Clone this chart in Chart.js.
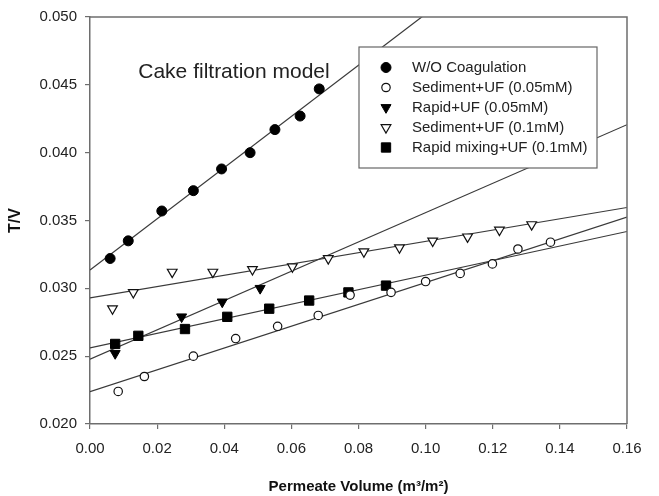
<!DOCTYPE html>
<html><head><meta charset="utf-8">
<script src="https://cdn.jsdelivr.net/npm/chart.js@4.4.1/dist/chart.umd.min.js"></script>
<style>html,body{margin:0;padding:0;background:#fff}#wrap{width:659px;height:496px}</style>
</head><body><div id="wrap"><canvas id="c" width="659" height="496"></canvas></div>
<script>
// ---- data ----
const seriesNames = ['W/O Coagulation', 'Sediment+UF (0.05mM)', 'Rapid+UF (0.05mM)', 'Sediment+UF (0.1mM)', 'Rapid mixing+UF (0.1mM)'];

const woX = [0.0060, 0.0114, 0.0214, 0.0308, 0.0392, 0.0477, 0.0551, 0.0626, 0.0683];
const woY = [0.0322, 0.0335, 0.0357, 0.0372, 0.0388, 0.0400, 0.0417, 0.0427, 0.0447];

const sed05X = [0.0084, 0.0162, 0.0308, 0.0434, 0.0559, 0.0680, 0.0775, 0.0897, 0.1000, 0.1103, 0.1199, 0.1275, 0.1372];
const sed05Y = [0.0224, 0.0235, 0.0250, 0.0263, 0.0272, 0.0280, 0.0295, 0.0297, 0.0305, 0.0311, 0.0318, 0.0329, 0.0334];

const rap05X = [0.0075, 0.0273, 0.0394, 0.0507];
const rap05Y = [0.0252, 0.0279, 0.0290, 0.0300];

const sed1X = [0.0067, 0.0129, 0.0245, 0.0366, 0.0484, 0.0603, 0.0710, 0.0816, 0.0922, 0.1021, 0.1125, 0.1220, 0.1316];
const sed1Y = [0.0285, 0.0297, 0.0312, 0.0312, 0.0314, 0.0316, 0.0322, 0.0327, 0.0330, 0.0335, 0.0338, 0.0343, 0.0347];

const rap1X = [0.0075, 0.0144, 0.0283, 0.0409, 0.0534, 0.0653, 0.0770, 0.0882];
const rap1Y = [0.0259, 0.0265, 0.0270, 0.0279, 0.0285, 0.0291, 0.0297, 0.0302];

// fitted straight lines: value at the left edge and at the right edge of the x range
const fitX = [0, 0.16];
const fitStart = [0.03135, 0.02238, 0.02478, 0.02929, 0.02561];
const fitEnd   = [0.06154, 0.03525, 0.04206, 0.03596, 0.03419];

const xTicks = [0, 0.02, 0.04, 0.06, 0.08, 0.10, 0.12, 0.14, 0.16];
const yTicks = [0.020, 0.025, 0.030, 0.035, 0.040, 0.045, 0.050];

const annotationText = 'Cake filtration model';
const annotationAt = [0.0429, 0.0459];

// ---- chart ----
const FONT = "'Liberation Sans', Arial, sans-serif";
const seriesX = [woX, sed05X, rap05X, sed1X, rap1X];
const seriesY = [woY, sed05Y, rap05Y, sed1Y, rap1Y];
const markers = [
  {pointStyle: 'circle', radius: 5, rotation: 0, bg: '#000', border: '#000', bw: 1},
  {pointStyle: 'circle', radius: 4.2, rotation: 0, bg: '#fff', border: '#111', bw: 1.2},
  {pointStyle: 'triangle', radius: 5.8, rotation: 180, bg: '#000', border: '#000', bw: 1},
  {pointStyle: 'triangle', radius: 5.6, rotation: 180, bg: '#fff', border: '#111', bw: 1.2},
  {pointStyle: 'rect', radius: 6.6, rotation: 0, bg: '#000', border: '#000', bw: 1}
];

const datasets = [];
seriesNames.forEach((name, i) => {
  datasets.push({
    type: 'scatter', label: name, legendMarker: true,
    data: seriesX[i].map((x, k) => ({x: x, y: seriesY[i][k]})),
    pointStyle: markers[i].pointStyle, pointRadius: markers[i].radius, pointRotation: markers[i].rotation,
    backgroundColor: markers[i].bg, borderColor: markers[i].border, borderWidth: markers[i].bw,
    pointBackgroundColor: markers[i].bg, pointBorderColor: markers[i].border, pointBorderWidth: markers[i].bw,
    showLine: false, order: 1
  });
});
seriesNames.forEach((name, i) => {
  datasets.push({
    type: 'line', label: name + ' fit', legendMarker: false,
    data: fitX.map((x, k) => ({x: x, y: k === 0 ? fitStart[i] : fitEnd[i]})),
    borderColor: '#3a3a3a', borderWidth: 1.2, pointRadius: 0, fill: false, tension: 0, order: 5
  });
});

const axisColor = '#6e6e6e';

const framePlugin = {
  id: 'frame',
  afterDatasetsDraw(chart) {
    const {ctx, chartArea: a} = chart;
    ctx.save();
    ctx.strokeStyle = axisColor; ctx.lineWidth = 1.5;
    ctx.beginPath();
    ctx.moveTo(a.left, a.top); ctx.lineTo(a.right, a.top); ctx.lineTo(a.right, a.bottom);
    ctx.stroke();
    // annotation
    const xs = chart.scales.x, ys = chart.scales.y;
    ctx.fillStyle = '#222';
    ctx.font = '21px ' + FONT;
    ctx.textAlign = 'center'; ctx.textBaseline = 'middle';
    ctx.fillText(annotationText, xs.getPixelForValue(annotationAt[0]), ys.getPixelForValue(annotationAt[1]));
    ctx.restore();
  },
  afterDraw(chart) {
    const {ctx, chartArea: a} = chart;
    const bx = a.left + 269, by = a.top + 30, bw = 238, bh = 121;
    ctx.save();
    ctx.fillStyle = '#fff';
    ctx.fillRect(bx, by, bw, bh);
    ctx.strokeStyle = '#666'; ctx.lineWidth = 1.2;
    ctx.strokeRect(bx, by, bw, bh);
    ctx.font = '15px ' + FONT;
    ctx.textAlign = 'left'; ctx.textBaseline = 'middle';
    const rows = chart.data.datasets.filter(d => d.legendMarker);
    rows.forEach((d, i) => {
      const cy = by + 20.5 + i * 20;
      const cx = bx + 27;
      ctx.fillStyle = d.pointBackgroundColor; ctx.strokeStyle = d.pointBorderColor; ctx.lineWidth = d.pointBorderWidth;
      Chart.helpers.drawPoint(ctx, {pointStyle: d.pointStyle, radius: d.pointRadius, rotation: d.pointRotation, borderWidth: d.pointBorderWidth}, cx, cy);
      ctx.fillStyle = '#222';
      ctx.fillText(d.label, bx + 53, cy);
    });
    ctx.restore();
  }
};

new Chart(document.getElementById('c'), {
  type: 'scatter',
  data: {datasets: datasets},
  options: {
    responsive: false, animation: false, devicePixelRatio: 1,
    layout: {padding: {left: 0, right: 32, top: 16, bottom: 0}},
    plugins: {legend: {display: false}, tooltip: {enabled: false}},
    scales: {
      x: {
        type: 'linear', min: 0, max: 0.16,
        afterBuildTicks: s => { s.ticks = xTicks.map(v => ({value: v})); },
        afterFit: s => { s.height = 72; },
        ticks: {color: '#222', font: {family: FONT, size: 15}, padding: 11, maxRotation: 0, autoSkip: false,
                callback: v => Number(v).toFixed(2)},
        grid: {display: true, drawOnChartArea: false, drawTicks: true, tickLength: 5, color: axisColor, lineWidth: 1.2},
        border: {display: true, color: axisColor, width: 1.5},
        title: {display: true, text: 'Permeate Volume (m\u00B3/m\u00B2)', color: '#111',
                font: {family: FONT, size: 15, weight: 'bold'}, padding: {top: 0, bottom: 0}}
      },
      y: {
        type: 'linear', min: 0.020, max: 0.050,
        afterBuildTicks: s => { s.ticks = yTicks.map(v => ({value: v})); },
        afterFit: s => { s.width = 90; },
        ticks: {color: '#222', font: {family: FONT, size: 15}, padding: 8, autoSkip: false,
                callback: v => Number(v).toFixed(3)},
        grid: {display: true, drawOnChartArea: false, drawTicks: true, tickLength: 5, color: axisColor, lineWidth: 1.2},
        border: {display: true, color: axisColor, width: 1.5},
        title: {display: true, text: 'T/V', color: '#111',
                font: {family: FONT, size: 16, weight: 'bold'}, padding: {top: 6, bottom: 0}}
      }
    }
  },
  plugins: [framePlugin]
});
</script>
</body></html>
